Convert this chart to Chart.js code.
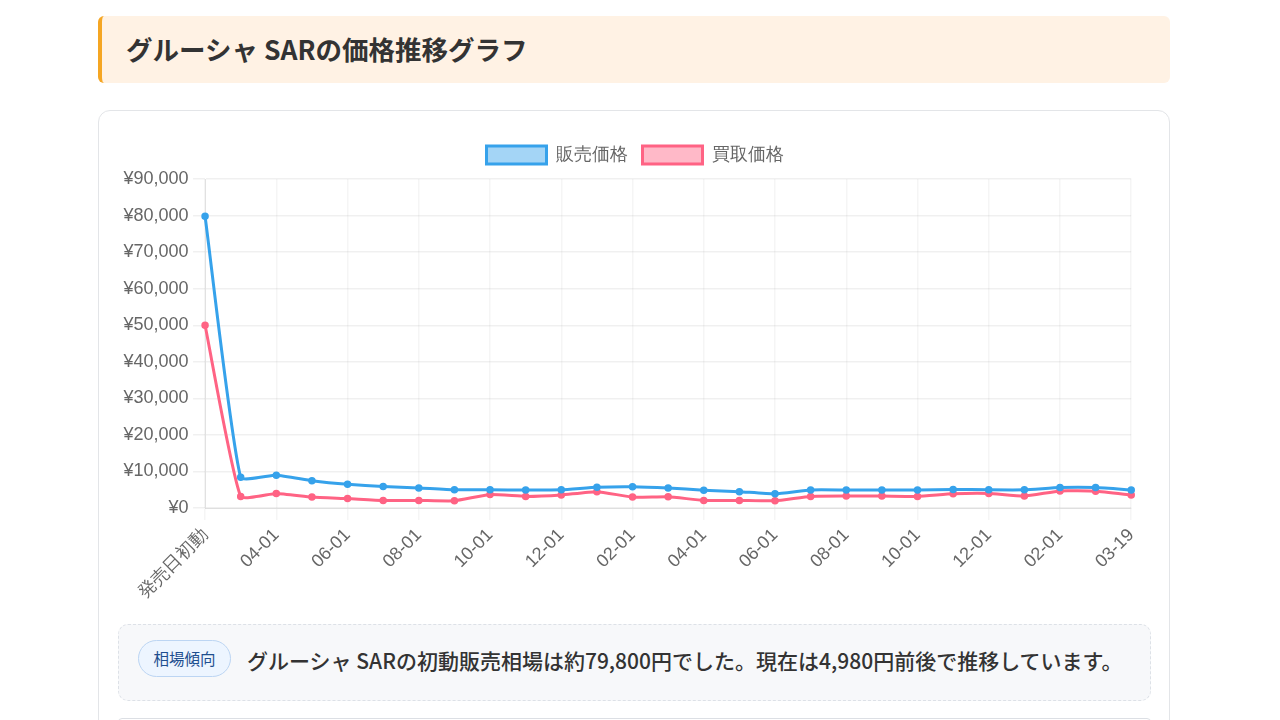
<!DOCTYPE html>
<html lang="ja">
<head>
<meta charset="utf-8">
<script src="https://cdn.jsdelivr.net/npm/chart.js@4.4.1/dist/chart.umd.min.js"></script>
<style>
  body { margin: 0; background: #fff; font-family: "Noto Sans CJK JP", "Noto Sans", sans-serif; color: #333; }
  .midashi {
    position: absolute; left: 98px; top: 16px; width: 1072px; height: 67px;
    background: #fff2e4; border-left: 4px solid #f5a623; border-radius: 6px;
    box-sizing: border-box; padding-left: 24px;
    font-size: 26.5px; font-weight: bold; line-height: 66px; color: #333;
  }
  .card {
    position: absolute; left: 98px; top: 110px; width: 1072px; height: 660px;
    border: 1px solid #e3e5e8; border-radius: 12px; box-sizing: border-box; background: #fff;
  }
  .chart-wrap { position: absolute; left: 20px; top: 20px; width: 1032px; height: 477px; }
  .keikou {
    position: absolute; left: 19px; top: 513px; width: 1033px; height: 77px;
    background: #f7f8fa; border: 1px dashed #dde1e7; border-radius: 10px; box-sizing: border-box;
  }
  .badge {
    position: absolute; left: 19px; top: 15px; width: 93px; height: 37px; box-sizing: border-box;
    border: 1px solid #bcd5f3; background: #edf5ff; border-radius: 19px;
    font-size: 15.5px; line-height: 35px; text-align: center; color: #1f4f8f;
  }
  .bun { position: absolute; left: 128px; top: 21px; font-size: 21px; line-height: 28px; font-weight: 500; color: #333; white-space: nowrap; }
  .tsugi { position: absolute; left: 19px; top: 607px; width: 1033px; height: 40px; border: 1px solid #dcdfe4; border-radius: 4px; box-sizing: border-box; }
</style>
</head>
<body>
<div class="midashi">グルーシャ SARの価格推移グラフ</div>
<div class="card">
  <div class="chart-wrap"><canvas id="kakakuGraph"></canvas></div>
  <div class="keikou">
    <div class="badge">相場傾向</div>
    <div class="bun">グルーシャ SARの初動販売相場は約79,800円でした。現在は4,980円前後で推移しています。</div>
  </div>
  <div class="tsugi"></div>
</div>
<script>
const hizuke = ['発売日初動','03-01','04-01','05-01','06-01','07-01','08-01','09-01','10-01','11-01','12-01','01-01','02-01',
  '03-01','04-01','05-01','06-01','07-01','08-01','09-01','10-01','11-01','12-01','01-01','02-01','03-01','03-19'];

const hanbaiKakaku = [79800,8400,9000,7500,6500,5900,5500,5000,5000,4950,5000,5700,5850,
  5500,4900,4500,3900,4950,4950,4950,4950,5100,5000,5000,5600,5600,4980];

const kaitoriKakaku = [50000,3200,4000,3000,2600,2100,2100,2000,3700,3200,3600,4500,3000,
  3100,2100,2100,2000,3200,3300,3300,3200,3900,4000,3300,4700,4600,3600];

const yTicks = [0,10000,20000,30000,40000,50000,60000,70000,80000,90000];

const elementoGraph = document.getElementById('kakakuGraph');

const dataGraph = {
  labels: hizuke,
  datasets: [
    {
      label: '販売価格',
      data: hanbaiKakaku,
      borderColor: '#36A2EB',
      backgroundColor: 'rgba(54,162,235,0.45)',
      borderWidth: 3,
      pointRadius: 3,
      pointBorderWidth: 1.5,
      pointBackgroundColor: '#36A2EB',
      tension: 0.15
    },
    {
      label: '買取価格',
      data: kaitoriKakaku,
      borderColor: '#FF6384',
      backgroundColor: 'rgba(255,99,132,0.45)',
      borderWidth: 3,
      pointRadius: 3,
      pointBorderWidth: 1.5,
      pointBackgroundColor: '#FF6384',
      tension: 0.15
    }
  ]
};

const gridIro = ctx => (ctx.index % 2 === 0 ? 'rgba(0,0,0,0.04)' : 'rgba(0,0,0,0)');

// 凡例の下に少し余白
const hanreiYohaku = {
  id: 'hanreiYohaku',
  beforeInit(chart) {
    const fitMoto = chart.legend.fit;
    chart.legend.fit = function () {
      fitMoto.call(this);
      this.height += 5;
    };
  }
};

const configGraph = {
  type: 'line',
  data: dataGraph,
  plugins: [hanreiYohaku],
  options: {
    responsive: true,
    maintainAspectRatio: false,
    animation: false,
    layout: { padding: 0 },
    plugins: {
      legend: {
        position: 'top',
        labels: { boxWidth: 60, boxHeight: 18, color: '#666', font: { size: 18 }, padding: 15 }
      },
      tooltip: { enabled: false }
    },
    scales: {
      x: {
        grid: { color: gridIro, tickLength: 12, lineWidth: 1.5 },
        ticks: {
          autoSkip: false,
          minRotation: 45,
          maxRotation: 45,
          padding: 4.5,
          color: '#666',
          font: { size: 18 },
          callback: (v, i) => (i % 2 === 0 ? hizuke[i] : '')
        }
      },
      y: {
        min: 0,
        max: 90000,
        afterBuildTicks: axis => { axis.ticks = yTicks.map(v => ({ value: v })); },
        grid: { color: 'rgba(0,0,0,0.06)', tickLength: 12, lineWidth: 1.5 },
        ticks: {
          padding: 4.5,
          color: '#666',
          font: { size: 18 },
          callback: v => '¥' + v.toLocaleString('en-US')
        }
      }
    }
  }
};

const instanciaGraph = new Chart(elementoGraph, configGraph);
</script>
</body>
</html>
